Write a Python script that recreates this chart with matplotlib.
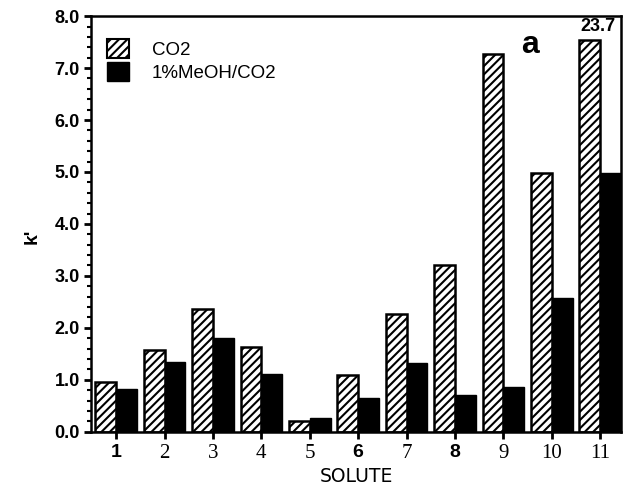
import numpy as np
import matplotlib
matplotlib.use("Agg")
import matplotlib.pyplot as plt
from matplotlib.patches import Patch
from matplotlib.ticker import MultipleLocator

# values
solutes = [1, 2, 3, 4, 5, 6, 7, 8, 9, 10, 11]
k_co2 = [0.95, 1.58, 2.37, 1.64, 0.20, 1.10, 2.27, 3.20, 7.27, 4.98, 23.7]
k_meoh = [0.83, 1.35, 1.80, 1.11, 0.26, 0.65, 1.32, 0.71, 0.86, 2.58, 4.98]
tick_labels = ['1', '2', '3', '4', '5', '6', '7', '8', '9', '10', '11']
bold_ticks = ['1', '6', '8']

plt.rcParams['hatch.linewidth'] = 1.5
plt.rcParams['font.family'] = ['Liberation Sans', 'DejaVu Sans']

fig = plt.figure(figsize=(6.25, 4.9), dpi=100)
ax = fig.add_axes([0.1456, 0.119, 0.848, 0.848])

x = np.array(solutes, dtype=float)
w = 0.43
cap = 7.55  # broken bar for off-scale value
shown = [min(v, cap) for v in k_co2]

ax.bar(x - w / 2, shown, width=w, color='white', edgecolor='black',
       hatch='////', linewidth=1.8, zorder=2)
ax.bar(x + w / 2, k_meoh, width=w, color='black', edgecolor='black',
       linewidth=1.0, zorder=2)

# label for the off-scale bar
i_big = int(np.argmax(k_co2))
ax.text(x[i_big] - 0.05, 7.63, f'{k_co2[i_big]:.1f}', ha='center', va='bottom',
        fontsize=13, fontweight='bold')
ax.text(9.55, 7.45, 'a', fontsize=23, fontweight='bold', ha='center', va='center')

ax.set_xlim(0.48, 11.43)
ax.set_ylim(0, 8.0)
ax.yaxis.set_major_locator(MultipleLocator(1.0))
ax.yaxis.set_minor_locator(MultipleLocator(0.2))
ax.set_yticklabels([f'{v:.1f}' for v in ax.get_yticks()], fontsize=13, fontweight='bold')
ax.tick_params(axis='y', which='major', direction='out', length=5, width=2, pad=3)
ax.tick_params(axis='y', which='minor', direction='out', length=3, width=1.5)

ax.set_xticks(x)
ax.set_xticklabels(tick_labels)
for t in ax.get_xticklabels():
    if t.get_text() in bold_ticks:
        t.set_fontweight('bold')
        t.set_fontsize(14)
    else:
        t.set_family(['Liberation Serif', 'DejaVu Serif'])
        t.set_fontsize(15)
ax.tick_params(axis='x', direction='out', length=5, width=2, pad=4)

for s in ax.spines.values():
    s.set_linewidth(1.8)

ax.set_xlabel('SOLUTE', fontsize=13.5, family=['DejaVu Sans'], labelpad=3)
ax.set_ylabel("k'", fontsize=14, fontweight='bold')
ax.yaxis.set_label_coords(-0.095, 0.47)

handles = [Patch(facecolor='white', edgecolor='black', hatch='////', linewidth=1.5),
           Patch(facecolor='black', edgecolor='black')]
ax.legend(handles, ['CO2', '1%MeOH/CO2'], loc='upper left', frameon=False,
          bbox_to_anchor=(0.016, 0.963), borderaxespad=0,
          fontsize=13.5, handlelength=1.2, handleheight=1.2, handletextpad=1.2,
          borderpad=0.4, labelspacing=0.15)

fig.savefig('out.png', dpi=100)
